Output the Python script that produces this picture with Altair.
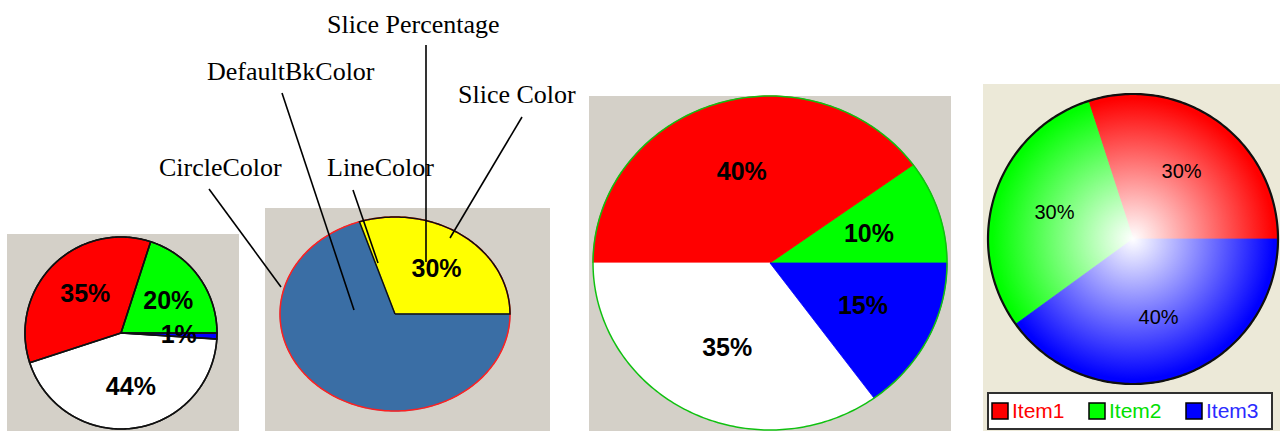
import math

import altair as alt
import pandas as pd

W, H = 1280, 431

# ---------------- data ----------------
# Pie 1: plain slices with black slice lines
p1_names = ["Green", "Red", "White", "Blue"]
p1_values = [20, 35, 44, 1]
p1_colors = ["#00ff00", "#ff0000", "#ffffff", "#0000ff"]

# Pie 2: one slice over the default background colour
p2_names = ["Slice", "DefaultBk"]
p2_values = [30, 70]
p2_colors = ["#ffff00", "#3a6ea5"]
p2_labelled = [True, False]

# Pie 3: slices without slice lines, green circle
p3_names = ["Green", "Red", "White", "Blue"]
p3_values = [10, 40, 35, 15]
p3_colors = ["#00ff00", "#ff0000", "#ffffff", "#0000ff"]

# Pie 4: shaded slices with a legend
p4_items = ["Item1", "Item2", "Item3"]
p4_values = [30, 30, 40]
p4_colors = ["#ff0000", "#00ff00", "#0000ff"]
p4_text_colors = ["#ff0000", "#00e000", "#2b2bff"]

# Property call-outs around pie 2
callout_texts = ["Slice Percentage", "DefaultBkColor", "Slice Color", "CircleColor", "LineColor"]

# ---------------- layout (pixels) ----------------
panels = [  # background panels: x0, x1, y0, y1, colour
    (7, 239, 234, 431, "#d4d0c8"),
    (265, 550, 208, 431, "#d4d0c8"),
    (589, 951, 96, 431, "#d4d0c8"),
    (983, 1280, 84, 431, "#ece9d8"),
]
pie_geom = {  # centre and radii of each pie
    "p1": (121, 333, 96, 96),
    "p2": (395, 314, 115, 97),
    "p3": (770, 263, 177, 167),
    "p4": (1133, 239, 145, 145),
}
LABEL_R = 0.57
callout_text_pos = [(327, 33), (207, 80), (458, 103), (159, 176), (327, 176)]
callout_lines = [
    (426, 45, 426, 262),
    (282, 93, 354, 310),
    (522, 117, 450, 238),
    (209, 189, 281, 287),
    (353, 190, 378, 263),
]
legend_box = (988, 1272, 393, 429)
legend_x0, legend_step, legend_sq, legend_y = 992, 97, 16, 403


def ellipse_pt(key, deg):
    cx, cy, rx, ry = pie_geom[key]
    t = math.radians(deg)
    return cx + rx * math.cos(t), cy - ry * math.sin(t)


def slice_rows(key, names, values, colors):
    """Wedge outlines, counter-clockwise from 3 o'clock."""
    cx, cy, _, _ = pie_geom[key]
    rows, labels = [], []
    total = float(sum(values))
    start = 0.0
    for name, v, c in zip(names, values, colors):
        end = start + 360.0 * v / total
        shape = f"{key}-{name}"
        pts = [(cx, cy)]
        n = max(2, int(math.ceil(end - start)) + 1)
        for k in range(n):
            pts.append(ellipse_pt(key, start + (end - start) * k / (n - 1)))
        pts.append((cx, cy))
        for i, (x, y) in enumerate(pts):
            rows.append(dict(shape=shape, i=i, x=x, y=y, fill=c))
        mid = (start + end) / 2
        mx, my = ellipse_pt(key, mid)
        labels.append(dict(
            shape=shape,
            x=cx + LABEL_R * (mx - cx),
            y=cy + LABEL_R * (my - cy),
            text=f"{v}%",
        ))
        start = end
    return rows, labels


def rim_rows(key, stroke, width):
    return [
        dict(shape=f"{key}-rim", i=k, x=ellipse_pt(key, k)[0], y=ellipse_pt(key, k)[1],
             stroke=stroke, sw=width)
        for k in range(0, 361)
    ]


r1, l1 = slice_rows("p1", p1_names, p1_values, p1_colors)
r2, l2 = slice_rows("p2", p2_names, p2_values, p2_colors)
r3, l3 = slice_rows("p3", p3_names, p3_values, p3_colors)
r4, l4 = slice_rows("p4", p4_items, p4_values, p4_colors)
l2 = [lab for lab, keep in zip(l2, p2_labelled) if keep]

fills_df = pd.DataFrame(r1 + r2 + r3 + r4)

# slice lines: all of pie 1 and the coloured slice of pie 2
edge_rows = [dict(r, stroke="#101010", sw=1.6) for r in r1]
edge_rows += [dict(r, stroke="#101010", sw=1.5) for r in r2 if r["shape"] == "p2-Slice"]
edges_df = pd.DataFrame(edge_rows)

rims_df = pd.DataFrame(
    rim_rows("p1", "#202020", 1.5)
    + rim_rows("p2", "#ff2020", 1.5)
    + rim_rows("p3", "#10c010", 1.5)
    + rim_rows("p4", "#101010", 2.2)
)
glow_df = pd.DataFrame([r for r in rim_rows("p4", "none", 0)])

bold_labels_df = pd.DataFrame(l1 + l2 + l3)
thin_labels_df = pd.DataFrame(l4)

panels_df = pd.DataFrame(
    [dict(x=a, x2=b, y=c, y2=d, fill=f) for a, b, c, d, f in panels]
)
callouts_df = pd.DataFrame(
    [dict(text=t, x=p[0], y=p[1]) for t, p in zip(callout_texts, callout_text_pos)]
)
leaders_df = pd.DataFrame(
    [dict(x=a, y=b, x2=c, y2=d) for a, b, c, d in callout_lines]
)
legend_box_df = pd.DataFrame([dict(x=legend_box[0], x2=legend_box[1], y=legend_box[2], y2=legend_box[3])])
legend_df = pd.DataFrame([
    dict(item=it, fill=c, tcol=tc,
         x=legend_x0 + k * legend_step, x2=legend_x0 + k * legend_step + legend_sq,
         y=legend_y, y2=legend_y + legend_sq,
         tx=legend_x0 + k * legend_step + legend_sq + 4, ty=legend_y + legend_sq - 1)
    for k, (it, c, tc) in enumerate(zip(p4_items, p4_colors, p4_text_colors))
])

# ---------------- encodings ----------------
XS = alt.Scale(domain=[0, W], nice=False, zero=False)
YS = alt.Scale(domain=[0, H], nice=False, zero=False, reverse=True)


def X(f):
    return alt.X(f"{f}:Q", scale=XS, axis=None)


def Y(f):
    return alt.Y(f"{f}:Q", scale=YS, axis=None)


bg = alt.Chart(panels_df).mark_rect(strokeWidth=0).encode(
    x=X("x"), x2="x2:Q", y=Y("y"), y2="y2:Q", fill=alt.Fill("fill:N", scale=None)
)

fills = alt.Chart(fills_df).mark_line(strokeWidth=0.8).encode(
    x=X("x"), y=Y("y"), order="i:Q", detail="shape:N",
    fill=alt.Fill("fill:N", scale=None), stroke=alt.Stroke("fill:N", scale=None),
)

glow = alt.Chart(glow_df).mark_line(
    strokeOpacity=0,
    fill={
        "gradient": "radial",
        "x1": 0.5, "y1": 0.5, "r1": 0,
        "x2": 0.5, "y2": 0.5, "r2": 0.5,
        "stops": [
            {"offset": 0, "color": "rgba(255,255,255,1)"},
            {"offset": 0.97, "color": "rgba(255,255,255,0)"},
        ],
    },
).encode(x=X("x"), y=Y("y"), order="i:Q")

rims = alt.Chart(rims_df).mark_line().encode(
    x=X("x"), y=Y("y"), order="i:Q", detail="shape:N",
    stroke=alt.Stroke("stroke:N", scale=None),
    strokeWidth=alt.StrokeWidth("sw:Q", scale=None),
)

edges = alt.Chart(edges_df).mark_line(strokeJoin="miter").encode(
    x=X("x"), y=Y("y"), order="i:Q", detail="shape:N",
    stroke=alt.Stroke("stroke:N", scale=None),
    strokeWidth=alt.StrokeWidth("sw:Q", scale=None),
)

bold_labels = alt.Chart(bold_labels_df).mark_text(
    font="Liberation Sans", fontWeight="bold", fontSize=25,
    align="center", baseline="middle", color="#000000", dx=3,
).encode(x=X("x"), y=Y("y"), text="text:N")

thin_labels = alt.Chart(thin_labels_df).mark_text(
    font="Liberation Sans", fontSize=20,
    align="center", baseline="middle", color="#000000",
).encode(x=X("x"), y=Y("y"), text="text:N")

leaders = alt.Chart(leaders_df).mark_rule(color="#000000", strokeWidth=1.6).encode(
    x=X("x"), y=Y("y"), x2="x2:Q", y2="y2:Q"
)

callouts = alt.Chart(callouts_df).mark_text(
    font="Liberation Serif", fontSize=26, align="left", baseline="alphabetic", color="#000000"
).encode(x=X("x"), y=Y("y"), text="text:N")

legend_frame = alt.Chart(legend_box_df).mark_rect(
    fill="#ffffff", stroke="#303030", strokeWidth=2
).encode(x=X("x"), x2="x2:Q", y=Y("y"), y2="y2:Q")

legend_swatches = alt.Chart(legend_df).mark_rect(stroke="#000000", strokeWidth=1.5).encode(
    x=X("x"), x2="x2:Q", y=Y("y"), y2="y2:Q", fill=alt.Fill("fill:N", scale=None)
)

legend_text = alt.Chart(legend_df).mark_text(
    font="Liberation Sans", fontSize=21, align="left", baseline="alphabetic"
).encode(x=X("tx"), y=Y("ty"), text="item:N", color=alt.Color("tcol:N", scale=None))

chart = alt.layer(
    bg, fills, glow, rims, edges, bold_labels, thin_labels,
    leaders, callouts, legend_frame, legend_swatches, legend_text,
).properties(
    width=W, height=H, padding=0,
    autosize=alt.AutoSizeParams(type="none"),
    background="#ffffff",
).configure_view(stroke=None)

chart.save("out.html", embed_options={"renderer": "svg", "actions": False})
